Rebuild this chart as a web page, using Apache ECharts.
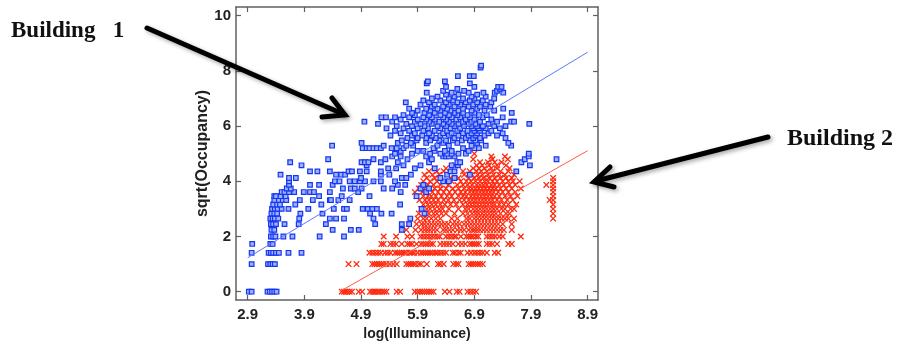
<!DOCTYPE html>
<html>
<head>
<meta charset="utf-8">
<script src="https://cdn.jsdelivr.net/npm/echarts/dist/echarts.min.js"></script>
<style>
html,body{margin:0;padding:0;background:#fff;}
#chart{width:904px;height:347px;}
</style>
</head>
<body>
<div id="chart"></div>
<script>
// ---- data (y = sqrt(occupancy) levels, x = log(illuminance)) ----
const xTickLabels = [2.9, 3.9, 4.9, 5.9, 6.9, 7.9, 8.9];
const yTickLabels = [0, 2, 4, 6, 8, 10];

// Building 1 (blue squares): [y level, x values at that level]
const building1Rows = [
  [0, [2.92, 2.97, 3.25, 3.29, 3.33, 3.37, 3.41]],
  [1, [2.97, 3.26, 3.30, 3.34, 3.38]],
  [1.41, [2.97, 3.27, 3.31, 3.35, 3.40, 3.45, 3.62, 3.85]],
  [1.73, [2.98, 3.30, 3.34]],
  [2, [3.31, 3.35, 3.39, 3.53, 3.69, 4.17, 4.6]],
  [2.24, [3.32, 3.37, 4.40, 4.72, 4.86, 5.62]],
  [2.45, [3.31, 3.35, 3.40, 3.55, 3.80, 4.28, 5.15, 5.62, 5.75]],
  [2.65, [3.30, 3.34, 3.38, 3.44, 3.81, 4.35, 4.46, 4.6, 5.12, 5.77]],
  [2.83, [3.32, 3.37, 3.42, 3.83, 4.22, 5.06, 5.26, 5.44, 6.02]],
  [3, [3.33, 3.38, 3.43, 3.50, 3.62, 3.97, 4.42, 4.6, 4.65, 4.93, 5.02, 5.1, 5.18, 5.97]],
  [3.16, [3.35, 3.42, 3.47, 3.74, 4.2, 5.59]],
  [3.32, [3.37, 3.45, 3.52, 3.58, 3.82, 4.05, 4.35, 4.37, 4.5, 4.7]],
  [3.46, [3.37, 3.40, 3.48, 3.57, 4.16, 4.56, 5.05, 5.88]],
  [3.61, [3.50, 3.55, 3.63, 3.72, 3.89, 4.0, 4.07, 4.35, 4.85, 5.6, 6.05]],
  [3.74, [3.59, 3.66, 4.58, 4.72, 4.79, 4.91, 5.3, 5.45, 5.95, 6.1]],
  [3.87, [3.63, 4.0, 4.16, 4.4, 5.55, 5.68, 6.0]],
  [4, [3.63, 4.44, 4.52, 4.70, 4.79, 4.88, 4.97, 5.12, 5.25, 5.5, 6.35, 6.45]],
  [4.12, [3.63, 3.75, 4.9, 5.62, 5.7, 6.3, 6.55]],
  [4.24, [3.48, 4.46, 4.55, 4.62, 5.25, 5.4, 5.78, 6.42, 6.82]],
  [4.36, [4.0, 4.13, 4.35, 4.68, 4.74, 4.88, 5.0, 5.25, 6.48, 6.55, 7.64]],
  [4.47, [5.38, 5.52, 5.85, 6.2]],
  [4.58, [3.85, 5.0, 5.65, 5.95, 6.5, 6.61, 7.88]],
  [4.69, [3.65, 4.91, 4.97, 5.03, 5.25, 5.55, 6.1, 6.6, 6.65, 7.73]],
  [4.8, [4.32, 5.12, 5.33, 5.72, 6.15, 7.79, 8.35]],
  [4.9, [5.45, 5.6, 6.05, 6.35, 6.4, 6.45, 6.55, 7.86]],
  [5, [5.5, 5.8, 6.12, 6.3, 6.42, 6.5, 6.62, 6.75, 7.86]],
  [5.1, [5.6, 5.9, 6.0, 6.2, 6.38, 6.5, 6.8]],
  [5.2, [4.93, 5.0, 5.05, 5.12, 5.18, 5.25, 5.44, 5.53, 5.65, 6.18, 6.7, 6.9, 6.98]],
  [5.29, [4.39, 5.3, 5.7, 5.82, 6.25, 6.45, 6.85, 7.1, 7.55]],
  [5.39, [4.91, 5.55, 5.78, 6.05, 6.35, 6.6, 6.95, 7.5]],
  [5.48, [5.62, 5.88, 6.12, 6.28, 6.4, 6.52, 6.68, 6.82, 6.92, 7.02]],
  [5.57, [5.72, 5.9, 6.05, 6.22, 6.55, 6.75, 6.88, 7.0, 7.45]],
  [5.66, [5.42, 5.8, 5.98, 6.15, 6.3, 6.45, 6.62, 6.8, 6.92, 7.08, 7.3]],
  [5.74, [5.6, 5.85, 6.1, 6.35, 6.5, 6.7, 6.85, 6.95, 7.15, 7.4]],
  [5.83, [5.5, 5.75, 6.0, 6.2, 6.42, 6.6, 6.78, 6.9, 7.0, 7.2]],
  [5.92, [5.35, 5.65, 5.9, 6.08, 6.3, 6.48, 6.65, 6.88, 6.98, 7.1, 7.35]],
  [6, [5.53, 5.8, 6.02, 6.25, 6.4, 6.55, 6.72, 6.85, 6.95, 7.05, 7.25, 7.45]],
  [6.08, [5.2, 5.7, 5.95, 6.15, 6.35, 6.5, 6.62, 6.8, 6.92, 7.15, 7.87]],
  [6.16, [4.96, 5.45, 5.85, 6.1, 6.28, 6.45, 6.7, 6.85, 7.0, 7.3, 7.55, 7.6]],
  [6.24, [5.6, 5.9, 6.05, 6.2, 6.4, 6.58, 6.75, 6.9, 7.2]],
  [6.32, [5.26, 5.34, 5.5, 5.75, 6.0, 6.15, 6.35, 6.5, 6.65, 6.82, 7.05, 7.4]],
  [6.4, [5.65, 5.85, 6.1, 6.3, 6.45, 6.6, 6.78, 6.98, 7.12]],
  [6.48, [5.8, 6.02, 6.2, 6.38, 6.55, 6.7, 6.9, 7.56]],
  [6.56, [5.9, 6.12, 6.3, 6.48, 6.62, 6.85, 7.08, 7.25]],
  [6.63, [5.75, 6.05, 6.25, 6.42, 6.7, 6.95, 7.41]],
  [6.71, [6.15, 6.35, 6.55, 6.8, 7.0, 7.18]],
  [6.78, [5.95, 6.2, 6.45, 6.65, 6.88, 7.1]],
  [6.86, [5.69, 6.1, 6.4, 6.6, 6.75, 6.95, 7.2]],
  [6.93, [6.0, 6.3, 6.52, 6.82, 7.05]],
  [7, [6.15, 6.45, 6.7, 6.9, 7.25]],
  [7.07, [6.25, 6.55, 6.85, 7.1]],
  [7.14, [6.4, 6.62, 6.95]],
  [7.21, [6.06, 6.5, 6.8, 7.06, 7.26, 7.41]],
  [7.28, [6.35, 6.72, 7.3]],
  [7.35, [6.6, 7.35]],
  [7.42, [6.4, 6.9, 7.32, 7.38]],
  [7.55, [6.06, 6.82]],
  [7.62, [6.08, 6.38]],
  [7.81, [6.61, 6.82, 6.89]],
  [8.12, [7.01]],
  [8.19, [7.02]]
];

// Building 2 (red crosses): [y level, x values at that level]
const building2Rows = [
  [0, [4.56, 4.6, 4.63, 4.66, 4.70, 4.74, 4.86, 4.92, 5.06, 5.1, 5.13, 5.16, 5.2, 5.23, 5.27, 5.31, 5.35, 5.53, 5.59, 5.85, 5.9, 5.94, 5.98, 6.02, 6.06, 6.1, 6.14, 6.18, 6.38, 6.46, 6.59, 6.64, 6.78, 6.83, 6.88, 6.93]],
  [1, [4.68, 4.82, 5.1, 5.14, 5.18, 5.22, 5.26, 5.3, 5.35, 5.41, 5.47, 5.53, 5.7, 5.74, 5.78, 5.82, 5.86, 5.92, 5.96, 6.06, 6.26, 6.3, 6.36, 6.53, 6.58, 6.62, 6.8, 6.84, 6.88, 6.92, 6.96, 7.0, 7.05]],
  [1.41, [5.05, 5.1, 5.15, 5.2, 5.25, 5.32, 5.37, 5.42, 5.5, 5.54, 5.58, 5.62, 5.66, 5.7, 5.76, 5.8, 5.84, 5.9, 5.96, 6.0, 6.04, 6.08, 6.12, 6.16, 6.21, 6.25, 6.3, 6.35, 6.4, 6.52, 6.56, 6.62, 6.66, 6.78, 6.84, 6.9, 6.95, 7.0, 7.05, 7.12, 7.26, 7.32]],
  [1.73, [5.26, 5.3, 5.42, 5.47, 5.52, 5.62, 5.72, 5.76, 5.8, 5.88, 5.96, 6.0, 6.04, 6.08, 6.13, 6.17, 6.3, 6.36, 6.41, 6.46, 6.52, 6.62, 6.68, 6.74, 6.82, 6.86, 6.9, 6.94, 6.98, 7.12, 7.17, 7.22, 7.3, 7.5, 7.56]],
  [2, [5.3, 5.52, 5.72, 5.8, 5.95, 6.0, 6.05, 6.1, 6.15, 6.2, 6.25, 6.29, 6.4, 6.45, 6.5, 6.55, 6.58, 6.66, 6.76, 6.8, 6.84, 6.88, 6.93, 6.97, 7.12, 7.17, 7.22, 7.27, 7.34, 7.4, 7.72]],
  [2.24, [5.62, 5.7, 5.86, 5.96, 6.02, 6.07, 6.12, 6.18, 6.24, 6.35, 6.4, 6.46, 6.52, 6.6, 6.66, 6.72, 6.8, 6.86, 6.9, 6.95, 7.0, 7.06, 7.12, 7.18, 7.24, 7.3, 7.36, 7.42, 7.56]],
  [2.45, [5.74, 5.88, 5.97, 6.02, 6.08, 6.14, 6.2, 6.26, 6.32, 6.38, 6.44, 6.52, 6.58, 6.64, 6.72, 6.78, 6.84, 6.9, 6.96, 7.02, 7.08, 7.14, 7.2, 7.26, 7.32, 7.4, 7.56]],
  [2.65, [5.9, 6.0, 6.06, 6.14, 6.22, 6.3, 6.5, 6.6, 6.76, 6.82, 6.9, 6.96, 7.02, 7.08, 7.14, 7.2, 7.26, 7.32, 7.38, 7.44, 7.5, 7.6, 8.29]],
  [2.83, [5.92, 6.04, 6.1, 6.18, 6.24, 6.32, 6.4, 6.55, 6.7, 6.78, 6.86, 6.92, 6.98, 7.04, 7.1, 7.16, 7.22, 7.28, 7.36, 7.46, 7.52, 8.29]],
  [3, [5.96, 6.06, 6.12, 6.2, 6.28, 6.34, 6.45, 6.62, 6.74, 6.8, 6.88, 6.94, 7.0, 7.06, 7.12, 7.18, 7.24, 7.3, 7.38, 7.44, 7.54, 7.6, 8.29]],
  [3.16, [6.0, 6.08, 6.15, 6.22, 6.3, 6.38, 6.48, 6.58, 6.7, 6.78, 6.84, 6.9, 6.96, 7.02, 7.08, 7.14, 7.2, 7.26, 7.34, 7.42, 7.5, 7.64, 8.29]],
  [3.32, [5.93, 6.03, 6.1, 6.18, 6.26, 6.36, 6.44, 6.54, 6.64, 6.72, 6.8, 6.86, 6.92, 6.98, 7.04, 7.1, 7.16, 7.22, 7.3, 7.38, 7.48, 7.58, 8.23, 8.29]],
  [3.46, [5.88, 6.0, 6.08, 6.14, 6.22, 6.32, 6.42, 6.5, 6.62, 6.7, 6.76, 6.84, 6.9, 6.96, 7.02, 7.08, 7.14, 7.2, 7.26, 7.34, 7.44, 7.54, 7.66, 8.29]],
  [3.61, [5.85, 5.98, 6.06, 6.16, 6.26, 6.36, 6.46, 6.56, 6.66, 6.74, 6.82, 6.88, 6.94, 7.0, 7.06, 7.12, 7.18, 7.24, 7.32, 7.4, 7.5, 7.62, 8.29]],
  [3.74, [5.92, 6.02, 6.12, 6.2, 6.3, 6.4, 6.52, 6.62, 6.72, 6.8, 6.86, 6.92, 6.98, 7.04, 7.1, 7.16, 7.22, 7.28, 7.36, 7.46, 7.56, 7.72, 8.29]],
  [3.87, [5.96, 6.08, 6.18, 6.3, 6.44, 6.6, 6.7, 6.78, 6.86, 6.94, 7.0, 7.06, 7.12, 7.2, 7.26, 7.34, 7.42, 7.52, 7.62, 8.17, 8.29]],
  [4, [6.0, 6.12, 6.24, 6.38, 6.5, 6.66, 6.76, 6.84, 6.92, 7.0, 7.08, 7.14, 7.22, 7.3, 7.4, 7.5, 7.58, 7.7, 8.29]],
  [4.12, [6.06, 6.2, 6.3, 6.48, 6.62, 6.8, 6.9, 6.98, 7.06, 7.16, 7.26, 7.36, 7.46, 7.56, 8.29]],
  [4.24, [6.02, 6.16, 6.28, 6.42, 6.72, 6.86, 6.96, 7.04, 7.14, 7.24, 7.34, 7.44, 7.6]],
  [4.36, [6.1, 6.24, 6.36, 6.7, 6.82, 6.94, 7.02, 7.12, 7.22, 7.36, 7.5]],
  [4.47, [6.2, 6.4, 6.88, 6.98, 7.08, 7.2, 7.3, 7.52]],
  [4.58, [6.56, 6.94, 7.04, 7.16, 7.3, 7.46]],
  [4.69, [7.0, 7.14, 7.26, 7.38]],
  [4.8, [6.88, 7.22, 7.49]],
  [4.9, [7.2, 7.44]],
  [5, [6.9]]
];

// Fitted regression lines (end points)
const building1Fit = [[2.9, 1.23], [8.9, 8.68]];
const building2Fit = [[4.52, 0], [8.9, 5.11]];

// ---- build the chart ----
const toPoints = rows => rows.flatMap(([y, xs]) => xs.map(x => [x, y]));
const FONT = '"Liberation Sans", Arial, sans-serif';
const frameColor = '#606060';

const xBase = {
  type: 'value', min: 2.694, max: 9.082,
  splitLine: { show: false },
  axisLine: { show: true, onZero: false, lineStyle: { color: frameColor, width: 1.5 } },
  axisTick: { show: true, inside: true, length: 5, customValues: xTickLabels, lineStyle: { color: frameColor, width: 1.2 } }
};
const yBase = {
  type: 'value', min: -0.301, max: 10.316,
  splitLine: { show: false },
  axisLine: { show: true, onZero: false, lineStyle: { color: frameColor, width: 1.5 } },
  axisTick: { show: true, inside: true, length: 5, customValues: yTickLabels, lineStyle: { color: frameColor, width: 1.2 } }
};

const arrowStyle = { stroke: '#000', lineWidth: 5, lineCap: 'round', lineJoin: 'miter', fill: null,
  shadowBlur: 4, shadowColor: 'rgba(0,0,0,0.35)', shadowOffsetX: 2, shadowOffsetY: 2 };

const chart = echarts.init(document.getElementById('chart'), null, { renderer: 'canvas' });
chart.setOption({
  animation: false,
  backgroundColor: '#ffffff',
  grid: { left: 236, right: 306, top: 7, bottom: 47, containLabel: false },
  xAxis: [
    Object.assign({}, xBase, {
      position: 'bottom',
      name: 'log(Illuminance)', nameLocation: 'middle', nameGap: 26,
      nameTextStyle: { fontFamily: FONT, fontWeight: 'bold', fontSize: 14, color: '#222' },
      axisLabel: { show: true, customValues: xTickLabels, margin: 7, formatter: v => v.toFixed(1),
        fontFamily: FONT, fontWeight: 'bold', fontSize: 15, color: '#222' }
    }),
    Object.assign({}, xBase, { position: 'top', axisLabel: { show: false } })
  ],
  yAxis: [
    Object.assign({}, yBase, {
      position: 'left',
      name: 'sqrt(Occupancy)', nameLocation: 'middle', nameGap: 20, nameRotate: 90,
      nameTextStyle: { fontFamily: FONT, fontWeight: 'bold', fontSize: 16, color: '#222' },
      axisLabel: { show: true, customValues: yTickLabels, margin: 5,
        fontFamily: FONT, fontWeight: 'bold', fontSize: 15, color: '#222' }
    }),
    Object.assign({}, yBase, { position: 'right', axisLabel: { show: false } })
  ],
  series: [
    {
      name: 'Building 2', type: 'scatter', silent: true,
      data: toPoints(building2Rows),
      symbol: 'path://M0,1.4L1.4,0L5,3.6L8.6,0L10,1.4L6.4,5L10,8.6L8.6,10L5,6.4L1.4,10L0,8.6L3.6,5Z',
      symbolSize: 6.5,
      itemStyle: { color: '#ff2a10', opacity: 1 }
    },
    {
      name: 'Building 1', type: 'scatter', silent: true,
      data: toPoints(building1Rows),
      symbol: 'rect', symbolSize: 4.6,
      itemStyle: { color: '#9cb0ff', borderColor: '#1536f0', borderWidth: 1.2, opacity: 1 }
    },
    {
      name: 'Fit 1', type: 'line', silent: true, data: building1Fit, symbol: 'none',
      lineStyle: { color: '#5d78ff', width: 1 }, z: 5
    },
    {
      name: 'Fit 2', type: 'line', silent: true, data: building2Fit, symbol: 'none',
      lineStyle: { color: '#ff5a48', width: 1 }, z: 5
    }
  ],
  graphic: [
    { type: 'text', left: 11, top: 20, z: 100,
      style: { text: 'Building   1', font: 'bold 23px "Liberation Serif", "Times New Roman", serif', fill: '#111' } },
    { type: 'text', left: 787, top: 127, z: 100,
      style: { text: 'Building 2', font: 'bold 24px "Liberation Serif", "Times New Roman", serif', fill: '#111' } },
    { type: 'polyline', z: 100, shape: { points: [[147, 28], [343, 114]] }, style: arrowStyle },
    { type: 'polyline', z: 100, shape: { points: [[332, 98], [345, 115], [322, 117]] }, style: arrowStyle },
    { type: 'polyline', z: 100, shape: { points: [[768, 137], [596, 181]] }, style: arrowStyle },
    { type: 'polyline', z: 100, shape: { points: [[610, 167], [594, 182], [614, 187]] }, style: arrowStyle }
  ]
});
</script>
</body>
</html>
